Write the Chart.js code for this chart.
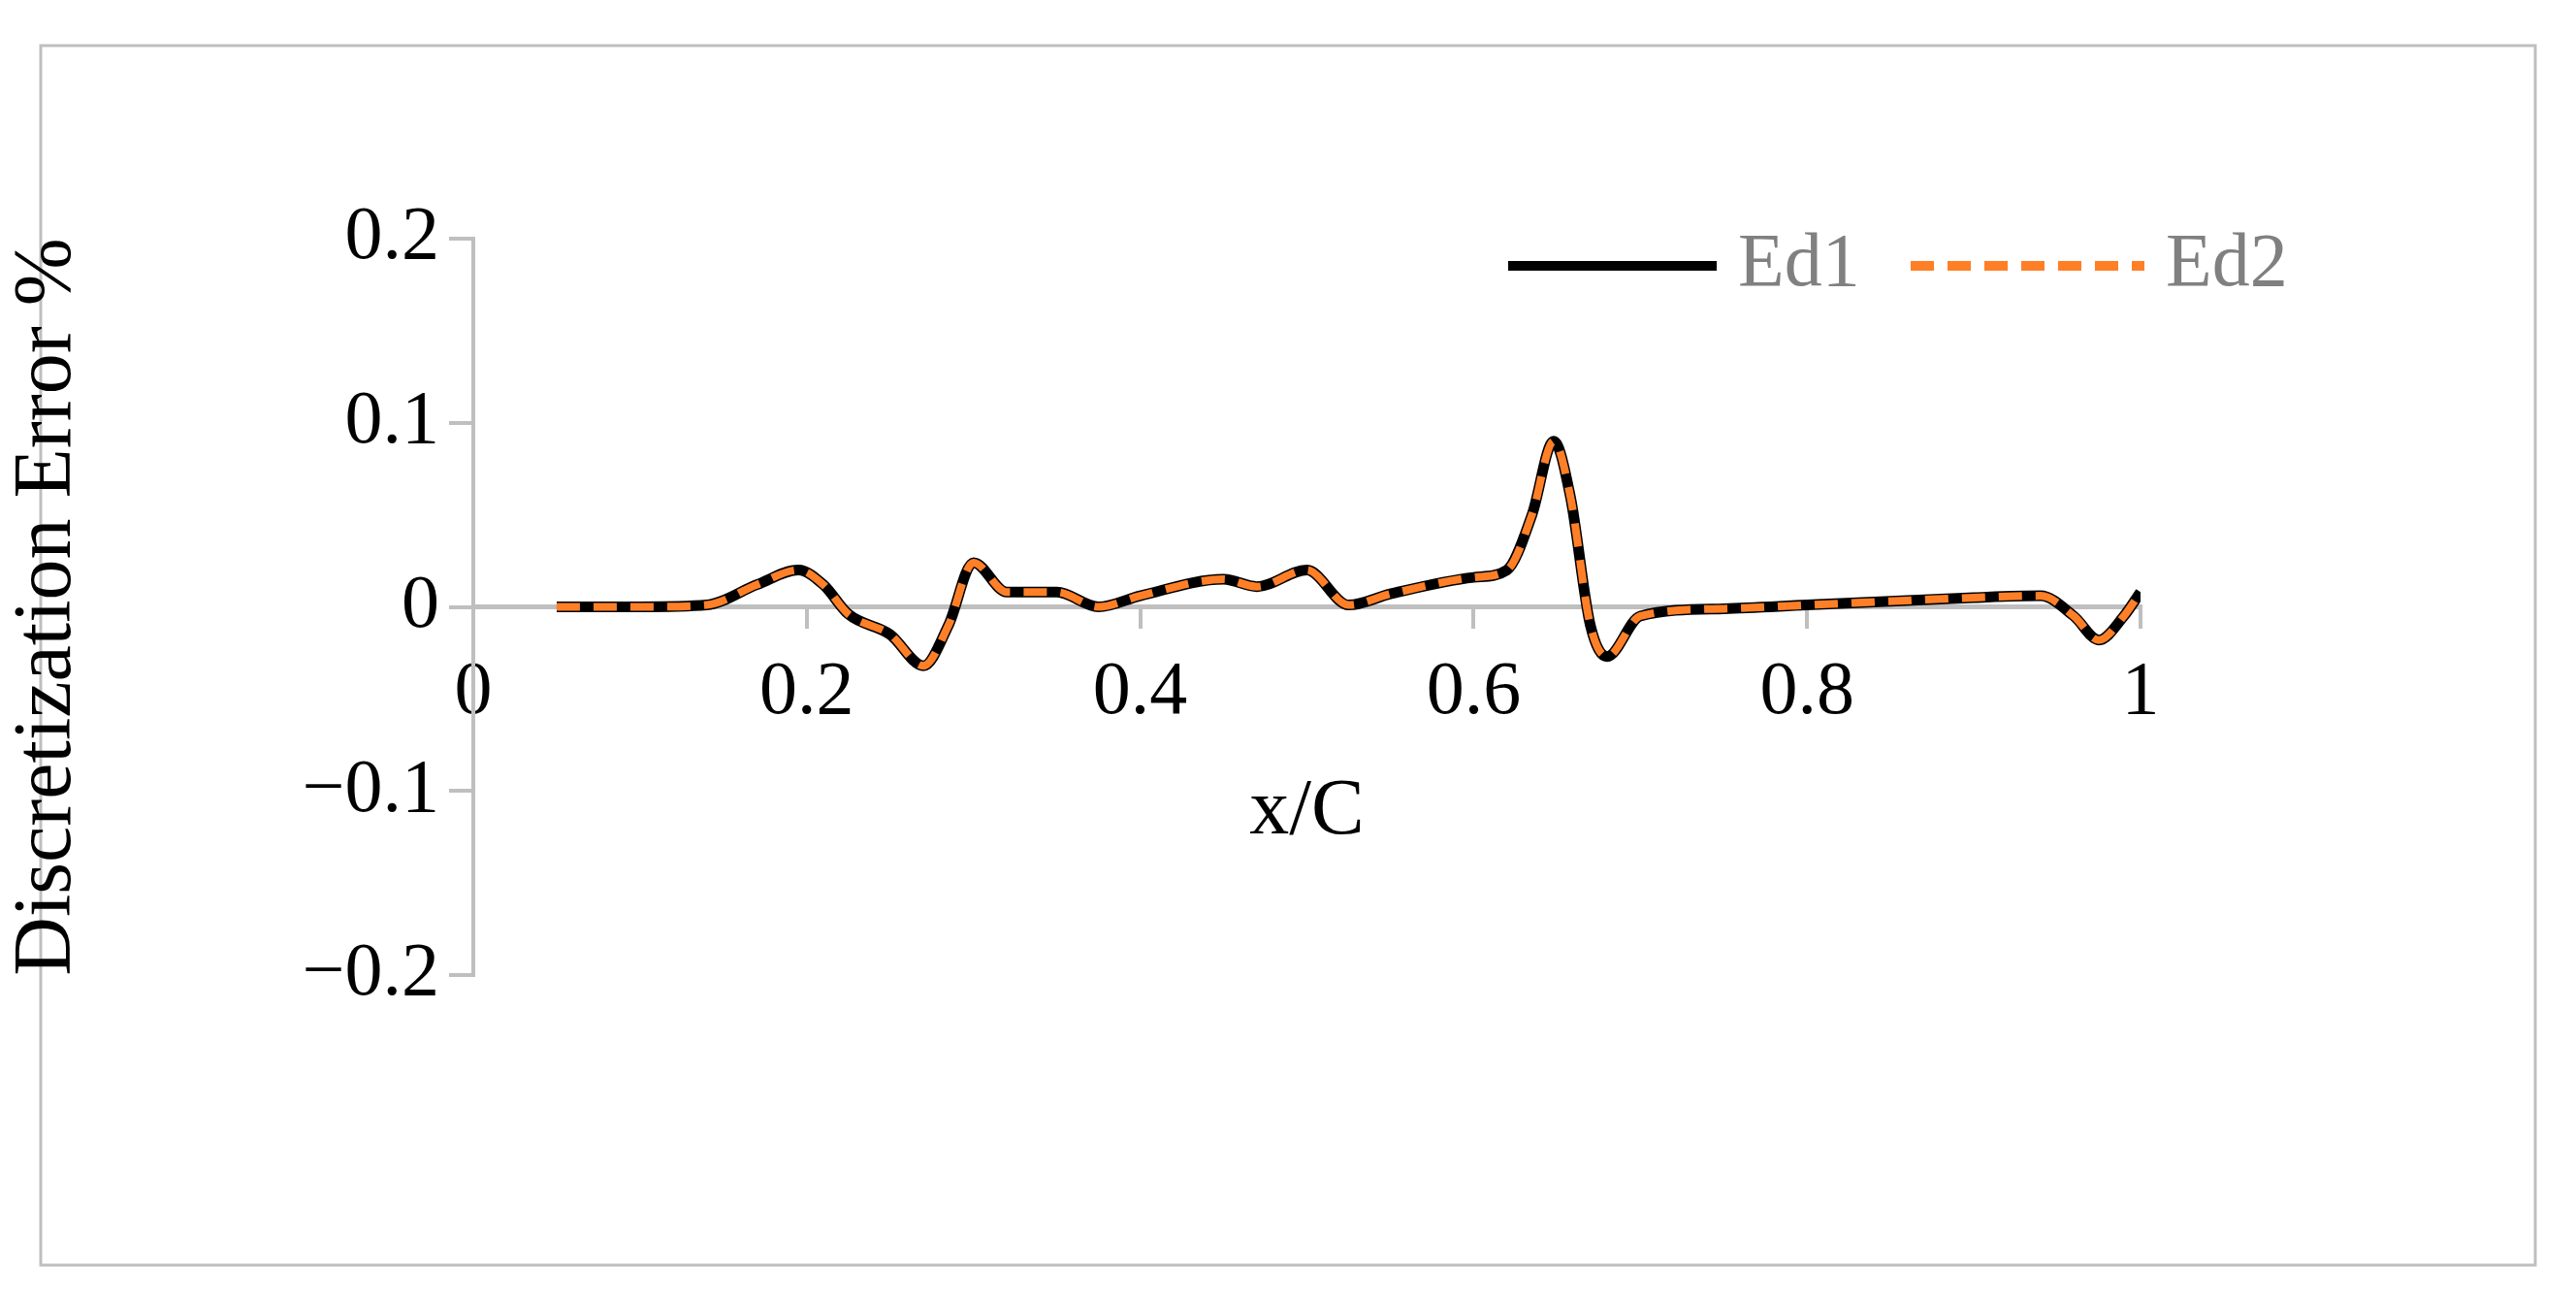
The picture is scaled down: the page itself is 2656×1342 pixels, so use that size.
<!DOCTYPE html>
<html><head><meta charset="utf-8">
<script src="https://cdn.jsdelivr.net/npm/chart.js@4/dist/chart.umd.min.js"></script>
<style>html,body{margin:0;padding:0;background:#fff}</style>
</head><body>
<canvas id="c" width="2656" height="1342" style="width:2656px;height:1342px"></canvas>
<script>
const xValues = [0.05,0.1,0.14,0.17,0.195,0.21,0.225,0.25,0.27,0.285,0.3,0.32,0.35,0.375,0.4,0.45,0.47,0.5,0.525,0.55,0.6,0.62,0.635,0.648,0.658,0.67,0.68,0.7,0.75,0.8,0.9,0.94,0.96,0.975,0.99,1.0];
const ed1 = [0,0,0.001,0.012,0.02,0.012,-0.004,-0.015,-0.032,-0.01,0.024,0.008,0.008,0,0.006,0.015,0.011,0.02,0.001,0.007,0.016,0.02,0.05,0.09,0.06,-0.01,-0.027,-0.005,-0.001,0.001,0.005,0.006,-0.005,-0.018,-0.005,0.008];
const ed2 = [0,0,0.001,0.012,0.02,0.012,-0.004,-0.015,-0.032,-0.01,0.024,0.008,0.008,0,0.006,0.015,0.011,0.02,0.001,0.007,0.016,0.02,0.05,0.09,0.06,-0.01,-0.027,-0.005,-0.001,0.001,0.005,0.006,-0.005,-0.018,-0.005,0.008];
const seriesNames = ['Ed1','Ed2'];
const yTicks = [-0.2,-0.1,0,0.1,0.2];
const xTicks = [0,0.2,0.4,0.6,0.8,1];
const FONT = '"Liberation Serif", serif';
const GRAY = '#bfbfbf';
const pts = a => xValues.map((x,i)=>({x, y:a[i]}));

const extras = {
  id:'extras',
  beforeDraw(ch){
    const c=ch.ctx; c.save(); c.fillStyle='#fff'; c.fillRect(0,0,ch.width,ch.height);
    c.strokeStyle=GRAY; c.lineWidth=3; c.strokeRect(42,47,2572,1257); c.restore();
  },
  afterDraw(ch){
    const c=ch.ctx; c.save();
    const y=274;
    c.lineCap='butt';
    c.strokeStyle='#000'; c.lineWidth=10; c.beginPath(); c.moveTo(1555,y); c.lineTo(1770,y); c.stroke();
    c.strokeStyle='#ff7f27'; c.lineWidth=10; c.setLineDash([24,14]); c.beginPath(); c.moveTo(1970,y); c.lineTo(2211,y); c.stroke();
    c.setLineDash([]);
    c.fillStyle='#808080'; c.font='78px '+FONT; c.textBaseline='middle';
    c.fillText(seriesNames[0],1792,y); c.fillText(seriesNames[1],2233,y);
    c.restore();
  }
};

new Chart(document.getElementById('c'),{
  type:'line',
  data:{datasets:[
    {label:seriesNames[0],data:pts(ed1),borderColor:'#000',borderWidth:11,pointRadius:0,cubicInterpolationMode:'monotone',order:1},
    {label:seriesNames[1],data:pts(ed2),borderColor:'#ff7f27',borderWidth:8,borderDash:[24,14],pointRadius:0,cubicInterpolationMode:'monotone',order:0}
  ]},
  options:{
    responsive:false,animation:false,devicePixelRatio:1,
    layout:{padding:{left:0,right:449,top:246,bottom:337}},
    plugins:{legend:{display:false},tooltip:{enabled:false}},
    scales:{
      x:{type:'linear',min:0,max:1,position:{y:0},
        afterBuildTicks(s){s.ticks=xTicks.map(v=>({value:v}));},
        ticks:{color:'#000',font:{family:FONT,size:78},padding:22,maxRotation:0,callback:v=>String(v)},
        grid:{drawOnChartArea:false,color:GRAY,lineWidth:4,tickLength:20},
        border:{color:GRAY,width:5},
        title:{display:true,text:'x/C',color:'#000',font:{family:FONT,size:82},padding:{top:5}}
      },
      y:{min:-0.2,max:0.2,
        afterBuildTicks(s){s.ticks=yTicks.map(v=>({value:v}));},
        afterFit(s){s.width=488;},
        ticks:{color:'#000',font:{family:FONT,size:78},padding:10,callback:v=>v===0?'0':(v<0?'\u2212'+Math.abs(v).toFixed(1):v.toFixed(1))},
        grid:{drawOnChartArea:false,color:GRAY,lineWidth:4,tickLength:25},
        border:{color:GRAY,width:4},
        title:{display:true,text:'Discretization Error %',color:'#000',font:{family:FONT,size:84},padding:{top:0,bottom:75}}
      }
    }
  },
  plugins:[extras]
});
</script></body></html>
